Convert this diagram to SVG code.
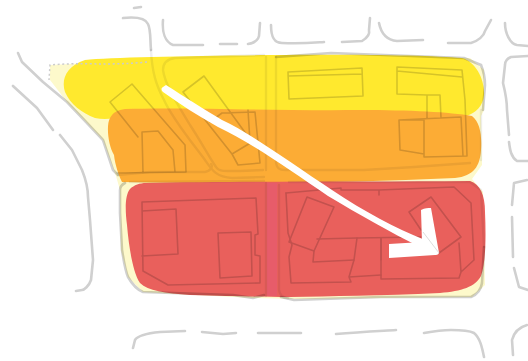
<svg xmlns="http://www.w3.org/2000/svg" width="528" height="361" viewBox="0 0 528 361">
<defs>
<filter id="soft" x="-5%" y="-5%" width="110%" height="110%"><feGaussianBlur stdDeviation="0.5"/></filter>
</defs>
<style>
.lines{filter:url(#soft);mix-blend-mode:multiply;fill:none;stroke-linejoin:round;stroke-linecap:round}
.road{stroke:#d0d0d0;stroke-width:2.6}
.faint{stroke:#eeeeee;stroke-width:2.4}
.bld{stroke:#d6d6d6;stroke-width:1.6}
</style>
<rect width="528" height="361" fill="#fff"/>
<g id="zones" filter="url(#soft)">
<path id="pale" d="M50 65L150 60L470 58L484 70L484 110L481 116L482 165L472 179L483 192L485 285L472 297L300 299L253 298L175 294L143 292L128 277L121 250L120 190L116 176L103 140L87 123L67 102L50 80Z" fill="#fdf9cb"/>
<path id="zone-yellow" d="M85 60C110 57 190 56 270 55C350 54 430 55 462 58C476 62 485 80 484 95C483 106 476 113 466 116L120 116C114 119 104 120 95 118C82 113 70 104 65 92C61 80 66 66 85 60Z" fill="#ffe92f"/>
<path id="zone-orange" d="M125 109C180 107 280 111 360 110C410 110 450 112 472 116C480 122 482 135 481 150C480 166 474 176 455 178C350 183 230 184 122 182C119 176 115 165 114 155C108 145 106 125 110 118C113 112 118 110 125 109Z" fill="#fcac35"/>
<path id="zone-red" d="M146 183C240 181 370 182 470 181C480 184 485 195 485 212C486 235 486 262 481 276C475 287 462 291 440 293C380 296 330 296 290 297C260 297 230 296 190 295C165 293 148 291 140 283C133 273 129 248 127 225C125 210 125 195 130 189C134 185 140 183 146 183Z" fill="#e9605c"/>
<rect id="zone-street" x="267" y="183" width="10" height="113" fill="#e6577a" opacity=".5"/>
</g>
<g id="roads">
<g class="lines road">
<path d="M134 8L141 7"/>
<path d="M123 18C133 17 145 17 148 24C151 30 150 40 151 50"/>
<path d="M163 20C162 32 165 42 173 45L203 45M220 44L237 44M248 44C254 43 258 40 259 36L260 23"/>
<path d="M271 25C271 37 274 43 282 43C300 44 310 43 324 42M342 42L362 41C367 38 370 34 369 30L370 18"/>
<path d="M379 23C381 33 386 40 397 41L423 40M448 43L471 43C478 41 484 36 485 31L491 20"/>
<path d="M505 23C505 33 510 44 517 45L528 46"/>
<path d="M528 56L511 57C506 59 505 62 505 65L503 83C506 95 507 105 507 110L509 135M509 142C510 150 511 157 517 161L528 161"/>
<path d="M18 53L22 62L43 82L67 102L87 123L103 140L113 170L118 175"/>
<path d="M13 86L37 108L53 130M60 135L72 150L82 170C86 180 88 190 88 197L90 220L93 260L91 280C89 286 84 290 82 290L76 291"/>
<path d="M125 183C121 185 120 188 120 190L120 213L122 250C124 262 125 270 128 277C132 284 138 290 143 292L173 293L233 295L253 298L264 295"/>
<path d="M133 348L135 340C138 335 150 333 160 332L185 331M202 332L223 334L236 333M258 333L301 333M336 334C360 332 380 331 396 330M424 333C435 331 445 330 451 330C462 330 470 331 474 333C480 338 482 347 484 357"/>
<path d="M513 355L512 340C514 332 520 327 527 325"/>
<path d="M527 180L514 183L512 205M512 217L513 257M514 268L519 287L528 290"/>
<path d="M281 297L294 300L381 297L471 297C478 294 481 290 482 283L484 247"/>
<path d="M481 65C484 72 485 78 485 85L483 110"/>
<path d="M276 57L331 53L464 58L481 65"/>
</g>
<g class="lines faint">
<path d="M151 50C152 72 156 85 164 100C172 118 190 140 205 160C212 170 216 177 232 178L264 177"/>
<path d="M264 55L175 58C168 59 163 62 163 70C165 85 178 105 190 125C200 140 208 155 216 167C219 172 226 171 240 171L263 170"/>
<path d="M118 175L150 172L205 172C211 171 213 166 211 164"/>
<path d="M266 57L266 170M276 57L276 163C277 168 279 170 285 170L364 170L414 167L470 163"/>
<path d="M266 183L266 296M279 185L279 290C280 296 284 298 288 298"/>
<path d="M130 182L264 181M289 182L470 182L481 190L484 247"/>
<path d="M481 110L481 160"/>
</g>
<path d="M147 62C110 66 80 62 50 65L49 80" fill="none" stroke="#cccccc" stroke-width="1.5" stroke-dasharray="2 2.6" filter="url(#soft)"/>
</g>
<g id="buildings" class="lines bld">
<path d="M110 102L132 84L185 145L186 172M110 102L138 137M173 150L158 131L142 132L143 173M173 150L175 172M117 173L186 172"/>
<path d="M183 92L204 76L252 142L232 154M183 92L232 154L238 165L260 163L255 112L222 113L210 122M248 110L250 142"/>
<path d="M288 72L362 68L363 96L289 99ZM288 76L362 74"/>
<path d="M397 67L462 70L465 100L467 156L424 157L424 120L399 120L400 150L424 154M397 67L397 94L427 95L427 118M427 95L440 95L441 118M399 120L461 117L463 156M397 71L462 77"/>
<path d="M142 202L256 198L258 234L255 235L255 255L260 256L260 283L168 285L143 271L142 202ZM142 211L176 209L178 254L142 256"/>
<path d="M218 233L251 232L252 276L220 278Z"/>
<path d="M286 193L341 188L341 190L379 190L379 195L379 190L454 187L471 203L474 260L461 272L459 243M461 272L459 278L381 279L381 238"/>
<path d="M286 193L288 233L292 245L289 257L291 283L351 282L349 277L381 275M349 277L354 260L357 238"/>
<path d="M307 197L334 207L314 251L289 242Z"/>
<path d="M317 239L357 238L421 237M314 251L313 262L354 260M381 238L381 260"/>
<path d="M409 212L431 197L461 237L439 253M409 212L421 230"/>
</g>
<g id="arrow">
<path d="M163 87L166 85C185 97 205 110 222 120C250 133 290 162 332 190C365 212 395 228 425 240L420 247C390 232 360 215 328 196C290 170 250 142 218 127C198 116 180 104 163 92C161 90 161 88 163 87Z" fill="#fff"/>
<path d="M421 210C425 208 428 208 431 208L439 253C438 255 436 255 435 255L389 258L389 244L422 242Z" fill="#fff"/>
<path d="M423 232L439 253" fill="none" stroke="#dddddd" stroke-width="1"/>
</g>
</svg>
